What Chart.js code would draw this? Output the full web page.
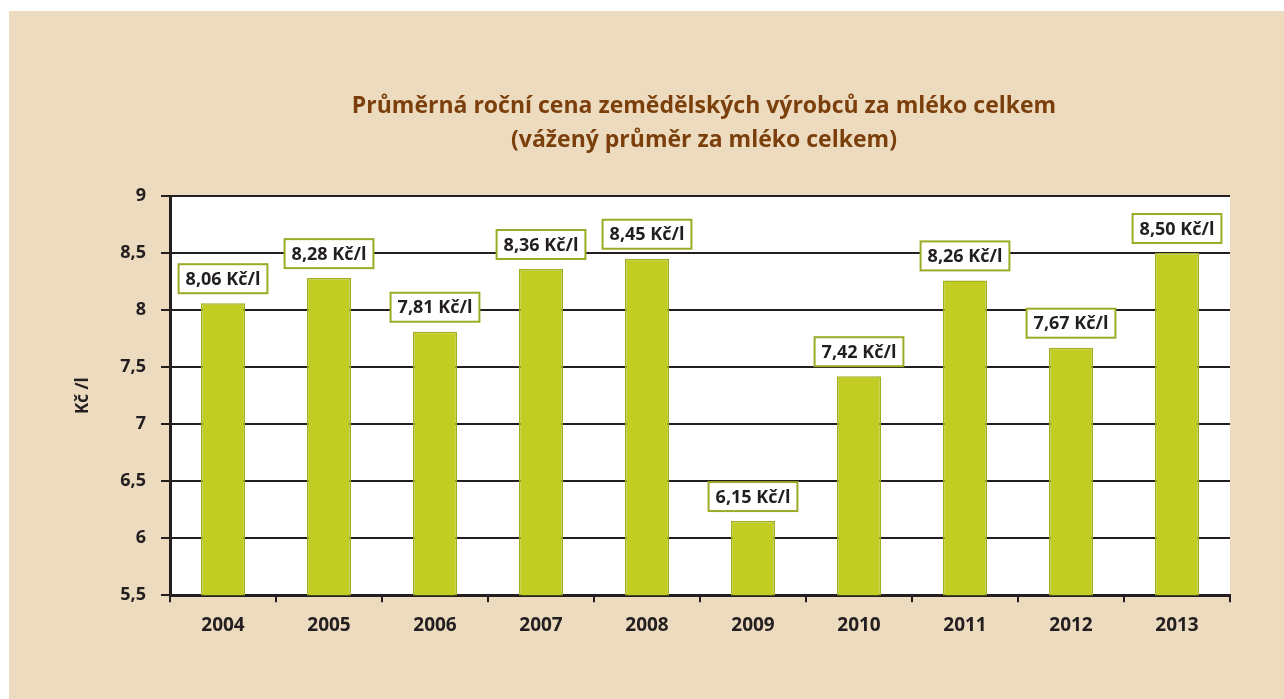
<!DOCTYPE html>
<html lang="cs">
<head>
<meta charset="utf-8">
<script src="https://cdn.jsdelivr.net/npm/chart.js@4.4.0/dist/chart.umd.min.js"></script>
<style>
  html, body { margin: 0; padding: 0; background: #ffffff; }
  .panel {
    position: absolute;
    left: 9px;
    top: 11px;
    width: 1275px;
    height: 688px;
    background: #ecdbbf;
  }
</style>
</head>
<body>
<div class="panel"><canvas id="milk"></canvas></div>
<script>
let years = ["2004", "2005", "2006", "2007", "2008", "2009", "2010", "2011", "2012", "2013"];
let prices = [8.06, 8.28, 7.81, 8.36, 8.45, 6.15, 7.42, 8.26, 7.67, 8.5];
let titleLines = [
  "Průměrná roční cena zemědělských výrobců za mléko celkem",
  "(vážený průměr za mléko celkem)",
];
let yTitle = "Kč /l";
let unit = " Kč/l";

let dark = "#231f20";

function czNumber(v, digits) {
  return (digits == null ? String(v) : v.toFixed(digits)).replace(".", ",");
}

// white plot area + title
let backdrop = {
  id: "backdrop",
  beforeDraw(chart) {
    const { ctx, chartArea } = chart;
    ctx.save();
    ctx.fillStyle = "#ffffff";
    ctx.fillRect(chartArea.left, chartArea.top, chartArea.right - chartArea.left, chartArea.bottom - chartArea.top);
    ctx.restore();
  },
  afterDraw(chart) {
    const { ctx, chartArea } = chart;
    const cx = (chartArea.left + chartArea.right) / 2 + 4;
    ctx.save();
    ctx.fillStyle = "#7b3f0c";
    ctx.font = "bold 23px 'Open Sans'";
    ctx.textAlign = "center";
    ctx.textBaseline = "middle";
    titleLines.forEach((line, i) => {
      ctx.fillText(line, cx, 95 + i * 34);
    });
    ctx.restore();
  },
};

// boxed value labels above the bars
let valueBoxes = {
  id: "valueBoxes",
  afterDatasetsDraw(chart) {
    const { ctx } = chart;
    const meta = chart.getDatasetMeta(0);
    ctx.save();
    ctx.font = "bold 18px 'Open Sans'";
    ctx.textAlign = "center";
    ctx.textBaseline = "middle";
    meta.data.forEach((bar, i) => {
      const text = czNumber(prices[i], 2) + unit;
      const w = ctx.measureText(text).width + 14;
      const h = 29;
      const bottom = bar.y - 10;
      ctx.fillStyle = "#ffffff";
      ctx.fillRect(bar.x - w / 2, bottom - h, w, h);
      ctx.strokeStyle = "#9cab25";
      ctx.lineWidth = 2;
      ctx.strokeRect(bar.x - w / 2, bottom - h, w, h);
      ctx.fillStyle = dark;
      ctx.fillText(text, bar.x, bottom - h / 2 + 1);
    });
    ctx.restore();
  },
};

new Chart(document.querySelector("#milk"), {
  type: "bar",
  data: {
    labels: years,
    datasets: [
      {
        data: prices,
        backgroundColor: "#c2cd23",
        borderColor: "#a2ae1f",
        borderWidth: 1.5,
        categoryPercentage: 1,
        barPercentage: 0.415,
      },
    ],
  },
  options: {
    responsive: true,
    maintainAspectRatio: false,
    animation: false,
    layout: { padding: { top: 185, right: 54, bottom: 50, left: 0 } },
    plugins: {
      legend: { display: false },
      tooltip: { enabled: false },
    },
    scales: {
      x: {
        grid: {
          offset: true,
          drawOnChartArea: false,
          drawTicks: true,
          tickLength: 7,
          color: dark,
          lineWidth: 2,
        },
        border: { color: dark, width: 3 },
        ticks: {
          color: dark,
          padding: 12,
          font: { family: "'Open Sans'", weight: "bold", size: 19 },
        },
      },
      y: {
        min: 5.5,
        max: 9,
        afterFit(scale) {
          scale.width = 161;
        },
        grid: { color: dark, lineWidth: 2, tickLength: 9 },
        border: { color: dark, width: 3 },
        ticks: {
          stepSize: 0.5,
          color: dark,
          padding: 15,
          font: { family: "'Open Sans'", weight: "bold", size: 18 },
          callback: (v) => czNumber(v),
        },
        title: {
          display: true,
          text: yTitle,
          color: dark,
          font: { family: "'Open Sans'", weight: "bold", size: 17 },
          padding: { top: 64, bottom: 0 },
        },
      },
    },
  },
  plugins: [backdrop, valueBoxes],
});
</script>
</body>
</html>
